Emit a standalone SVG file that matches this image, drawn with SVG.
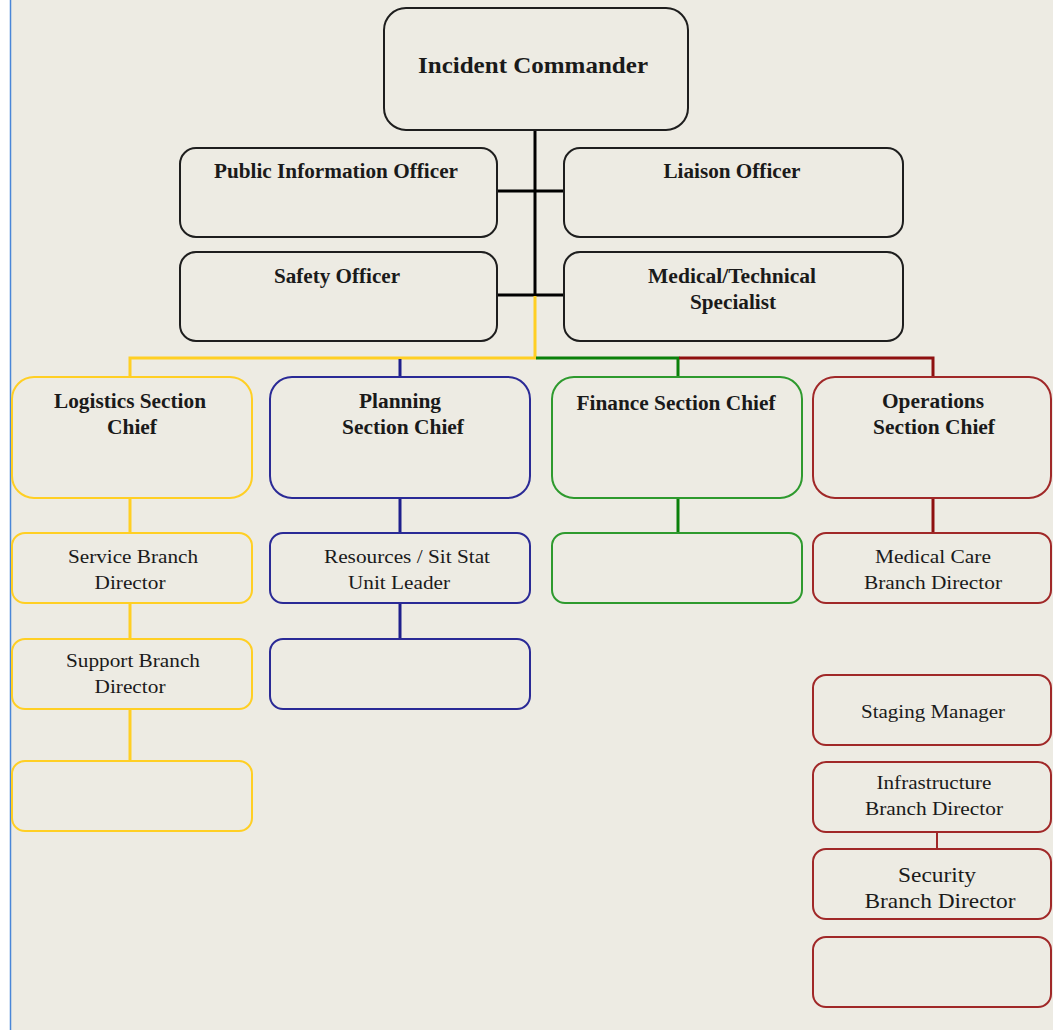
<svg xmlns="http://www.w3.org/2000/svg" width="1053" height="1030" viewBox="0 0 1053 1030">
<style>
.bg{fill:#EDEBE3}
.box{fill:#EDEBE3;stroke-width:2}
.k{stroke:#1E1E1E}
.y{stroke:#FFCF24}
.b{stroke:#2A2A96}
.g{stroke:#2E9A2E}
.r{stroke:#A02828}
.t{font-family:"Liberation Serif","Times New Roman",serif;fill:#1A1A1A;text-anchor:middle}
.h{font-weight:bold;font-size:20px}
.n{font-size:19px}
.c{fill:none;stroke-width:3}
</style>
<rect x="0" y="0" width="1053" height="1030" fill="#FFFFFF"/>
<rect class="bg" x="10" y="0" width="1043" height="1030"/>
<line x1="10.5" y1="0" x2="10.5" y2="1030" stroke="#4A86D8" stroke-width="1.5"/>

<g id="connectors">
<line class="c" x1="535" y1="130" x2="535" y2="296" stroke="#000"/>
<line class="c" x1="497" y1="191" x2="563" y2="191" stroke="#000"/>
<line class="c" x1="497" y1="295" x2="563" y2="295" stroke="#000"/>
<polyline class="c" points="535,296 535,358 130,358 130,377" stroke="#FFCF24"/>
<line class="c" x1="400" y1="359" x2="400" y2="377" stroke="#1E1E8C"/>
<polyline class="c" points="536,358 678,358 678,377" stroke="#0A800A"/>
<polyline class="c" points="679,358 933,358 933,377" stroke="#8E1010"/>
<line class="c" x1="130" y1="498" x2="130" y2="533" stroke="#FFCF24"/>
<line class="c" x1="130" y1="603" x2="130" y2="639" stroke="#FFCF24"/>
<line class="c" x1="130" y1="709" x2="130" y2="761" stroke="#FFCF24"/>
<line class="c" x1="400" y1="498" x2="400" y2="533" stroke="#1E1E8C"/>
<line class="c" x1="400" y1="603" x2="400" y2="639" stroke="#1E1E8C"/>
<line class="c" x1="678" y1="498" x2="678" y2="533" stroke="#0A800A"/>
<line class="c" x1="933" y1="498" x2="933" y2="533" stroke="#8E1010"/>
<line x1="937" y1="832" x2="937" y2="849" stroke="#A02828" stroke-width="2"/>
</g>

<g id="incident-commander">
<rect class="box k" x="384" y="8" width="304" height="122" rx="22"/>
<text class="t h" x="533" y="73" style="font-size:24px" textLength="230" lengthAdjust="spacingAndGlyphs">Incident Commander</text>
</g>
<g id="pio">
<rect class="box k" x="180" y="148" width="317" height="89" rx="16"/>
<text class="t h" x="336" y="178" textLength="244" lengthAdjust="spacingAndGlyphs">Public Information Officer</text>
</g>
<g id="liaison">
<rect class="box k" x="564" y="148" width="339" height="89" rx="16"/>
<text class="t h" x="732" y="178" textLength="137" lengthAdjust="spacingAndGlyphs">Liaison Officer</text>
</g>
<g id="safety">
<rect class="box k" x="180" y="252" width="317" height="89" rx="16"/>
<text class="t h" x="337" y="283" textLength="126" lengthAdjust="spacingAndGlyphs">Safety Officer</text>
</g>
<g id="medtech">
<rect class="box k" x="564" y="252" width="339" height="89" rx="16"/>
<text class="t h" x="732" y="283" textLength="168" lengthAdjust="spacingAndGlyphs">Medical/Technical</text>
<text class="t h" x="733" y="309" textLength="86" lengthAdjust="spacingAndGlyphs">Specialist</text>
</g>

<g id="logistics">
<rect class="box y" x="12" y="377" width="240" height="121" rx="22"/>
<text class="t h" x="130" y="408" textLength="152" lengthAdjust="spacingAndGlyphs">Logistics Section</text>
<text class="t h" x="132" y="434" textLength="50" lengthAdjust="spacingAndGlyphs">Chief</text>
</g>
<g id="planning">
<rect class="box b" x="270" y="377" width="260" height="121" rx="22"/>
<text class="t h" x="400" y="408" textLength="82" lengthAdjust="spacingAndGlyphs">Planning</text>
<text class="t h" x="403" y="434" textLength="122" lengthAdjust="spacingAndGlyphs">Section Chief</text>
</g>
<g id="finance">
<rect class="box g" x="552" y="377" width="250" height="121" rx="22"/>
<text class="t h" x="676" y="410" textLength="199" lengthAdjust="spacingAndGlyphs">Finance Section Chief</text>
</g>
<g id="operations">
<rect class="box r" x="813" y="377" width="238" height="121" rx="22"/>
<text class="t h" x="933" y="408" textLength="102" lengthAdjust="spacingAndGlyphs">Operations</text>
<text class="t h" x="934" y="434" textLength="122" lengthAdjust="spacingAndGlyphs">Section Chief</text>
</g>

<g id="service-branch">
<rect class="box y" x="12" y="533" width="240" height="70" rx="13"/>
<text class="t n" x="133" y="563" textLength="130" lengthAdjust="spacingAndGlyphs">Service Branch</text>
<text class="t n" x="130" y="589" textLength="71" lengthAdjust="spacingAndGlyphs">Director</text>
</g>
<g id="resources">
<rect class="box b" x="270" y="533" width="260" height="70" rx="13"/>
<text class="t n" x="407" y="563" textLength="166" lengthAdjust="spacingAndGlyphs">Resources / Sit Stat</text>
<text class="t n" x="399" y="589" textLength="102" lengthAdjust="spacingAndGlyphs">Unit Leader</text>
</g>
<g id="finance-sub">
<rect class="box g" x="552" y="533" width="250" height="70" rx="13"/>
</g>
<g id="medical-care">
<rect class="box r" x="813" y="533" width="238" height="70" rx="13"/>
<text class="t n" x="933" y="563" textLength="116" lengthAdjust="spacingAndGlyphs">Medical Care</text>
<text class="t n" x="933" y="589" textLength="138" lengthAdjust="spacingAndGlyphs">Branch Director</text>
</g>

<g id="support-branch">
<rect class="box y" x="12" y="639" width="240" height="70" rx="13"/>
<text class="t n" x="133" y="667" textLength="134" lengthAdjust="spacingAndGlyphs">Support Branch</text>
<text class="t n" x="130" y="693" textLength="71" lengthAdjust="spacingAndGlyphs">Director</text>
</g>
<g id="planning-sub">
<rect class="box b" x="270" y="639" width="260" height="70" rx="13"/>
</g>
<g id="logistics-sub">
<rect class="box y" x="12" y="761" width="240" height="70" rx="13"/>
</g>

<g id="staging">
<rect class="box r" x="813" y="675" width="238" height="70" rx="13"/>
<text class="t n" x="933" y="718" textLength="144" lengthAdjust="spacingAndGlyphs">Staging Manager</text>
</g>
<g id="infrastructure">
<rect class="box r" x="813" y="762" width="238" height="70" rx="13"/>
<text class="t n" x="934" y="789" textLength="115" lengthAdjust="spacingAndGlyphs">Infrastructure</text>
<text class="t n" x="934" y="815" textLength="138" lengthAdjust="spacingAndGlyphs">Branch Director</text>
</g>
<g id="security">
<rect class="box r" x="813" y="849" width="238" height="70" rx="13"/>
<text class="t" x="937" y="882" font-size="21" textLength="78" lengthAdjust="spacingAndGlyphs">Security</text>
<text class="t" x="940" y="908" font-size="21" textLength="151" lengthAdjust="spacingAndGlyphs">Branch Director</text>
</g>
<g id="ops-sub">
<rect class="box r" x="813" y="937" width="238" height="70" rx="13"/>
</g>
</svg>
